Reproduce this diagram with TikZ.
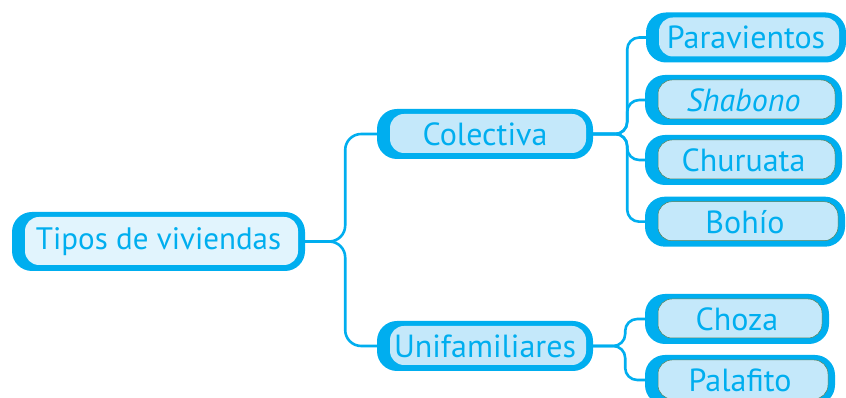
\documentclass[tikz,border=0pt]{standalone}
\usepackage{fontspec}
\setmainfont{PT Sans}

\definecolor{mapcyan}{HTML}{00AEEF}
\definecolor{mapfill}{HTML}{C4E8FA}
\definecolor{rootfill}{HTML}{E1F4FD}
\definecolor{mapolive}{HTML}{6B7534}

\tikzset{
  topic/.style={rectangle, rounded corners=20pt, fill=mapcyan, text=mapcyan,
    inner sep=0pt, minimum height=50pt, font=\fontsize{32}{34}\selectfont,
    path picture={\path[#1, rounded corners=14pt]
      ([xshift=13pt,yshift=6pt]path picture bounding box.south west) rectangle
      ([xshift=-7pt,yshift=-5pt]path picture bounding box.north east);}},
  topic/.default={fill=mapfill},
  leaf/.style={topic={fill=mapfill, draw=mapolive!80!mapcyan, line width=0.5pt}},
  link/.style={draw=mapcyan, line width=2.6pt, rounded corners=#1},
  link/.default=16pt
}

\begin{document}
\begin{tikzpicture}[x=1pt,y=1pt]
        \useasboundingbox (0,0) rectangle (846,398);

        % Root
        \node[topic={fill=rootfill}, minimum width=293pt, minimum height=59pt,
              font=\fontsize{31}{33}\selectfont] (root) at (158.5,156.5) {Tipos de viviendas};

        % Second level
        \node[topic, minimum width=216pt] (col) at (485,264) {Colectiva};
        \node[topic, minimum width=216pt] (uni) at (485,52) {Unifamiliares};

        % Leaves
        \node[topic, minimum width=200pt] (para) at (746,360.5) {Paravientos};
        \node[leaf, minimum width=197pt] (shab) at (743.5,298) {\itshape Shabono};
        \node[leaf, minimum width=197pt] (chur) at (743.5,238) {Churuata};
        \node[leaf, minimum width=200pt] (bohio) at (745,176.3) {Bohío};
        \node[leaf, minimum width=184pt] (choza) at (737,79) {Choza};
        \node[leaf, minimum width=190pt] (pala) at (740,18) {Palafito};

        % Connectors
        \draw[link] (root.east) -- ++(40pt,0) |- (col.west);
        \draw[link] (root.east) -- ++(40pt,0) |- (uni.west);
        \foreach \n in {para,shab,chur,bohio}
            \draw[link=12pt] (col.east) -- ++(34pt,0) |- (\n.west);
        \foreach \n in {choza,pala}
            \draw[link=12pt] (uni.east) -- ++(32pt,0) |- (\n.west);
\end{tikzpicture}
\end{document}
